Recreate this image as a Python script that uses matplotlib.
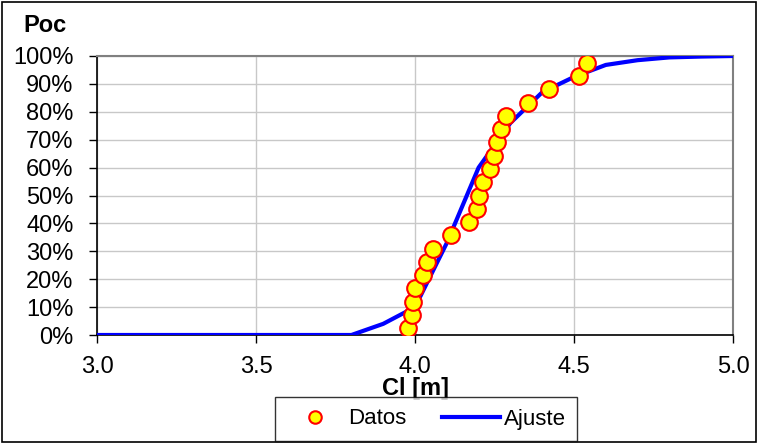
import matplotlib.pyplot as plt
from matplotlib.ticker import PercentFormatter
from matplotlib.patches import Rectangle

plt.rcParams['font.family'] = ['Liberation Sans', 'DejaVu Sans']

# Datos medidos (Cl en m, probabilidad acumulada en %)
Cl_datos = [3.979, 3.989, 3.993, 4.000, 4.026, 4.037, 4.058, 4.113, 4.171, 4.194, 4.201,
            4.215, 4.236, 4.248, 4.259, 4.269, 4.286, 4.356, 4.422, 4.517, 4.540]
Poc_datos = [2.4, 7.1, 11.9, 16.7, 21.4, 26.2, 31.0, 35.7, 40.5, 45.2, 50.0,
             54.8, 59.5, 64.3, 69.0, 73.8, 78.6, 83.3, 88.1, 92.9, 97.6]

# Curva de ajuste
Cl_ajuste = [3.0, 3.8, 3.9, 4.0, 4.1, 4.2, 4.3, 4.4, 4.5, 4.6, 4.7, 4.8, 4.9, 5.0]
Poc_ajuste = [0.0, 0.0, 4.0, 10.0, 33.0, 60.0, 76.0, 87.0, 92.5, 96.8, 98.5, 99.5, 99.8, 100.0]

fig = plt.figure(figsize=(7.59, 4.43), dpi=100)
ax = fig.add_axes([97/759, 1 - 335/443, (733 - 97)/759, (335 - 56)/443])

ax.plot(Cl_ajuste, Poc_ajuste, '-', linewidth=3, color="#0000ff", label="Ajuste", zorder=3)
ax.plot(Cl_datos, Poc_datos, 'o', markersize=12, markerfacecolor="#ffff00",
        markeredgecolor="#ff0000", markeredgewidth=1.5, linestyle="none", label="Datos", zorder=4)

ax.set_xlim(3.0, 5.0)
ax.set_ylim(0, 100)
ax.set_xticks([3.0, 3.5, 4.0, 4.5, 5.0])
ax.set_xticklabels(["3.0", "3.5", "4.0", "4.5", "5.0"])
ax.set_yticks(range(0, 101, 10))
ax.yaxis.set_major_formatter(PercentFormatter(decimals=0))
ax.tick_params(labelsize=17, length=6, width=1, color="black", direction="out")
ax.tick_params(axis="x", pad=9)
ax.tick_params(axis="y", pad=11)

ax.grid(True, color="#c8c8c8", linewidth=1)
ax.set_axisbelow(True)
for lado in ["top", "right"]:
    ax.spines[lado].set_color("#808080")
    ax.spines[lado].set_linewidth(1.5)
for lado in ["left", "bottom"]:
    ax.spines[lado].set_color("black")
    ax.spines[lado].set_linewidth(1.2)

# Títulos de ejes
fig.text(415/759, 1 - 388/443, "Cl [m]", fontsize=17, fontweight="bold", ha="center", va="center")
fig.text(45/759, 1 - 26/443, "Poc", fontsize=17, fontweight="bold", ha="center", va="center")

h, l = ax.get_legend_handles_labels()
leg = fig.legend([h[1], h[0]], [l[1], l[0]], loc="center", bbox_to_anchor=(426/759, 1 - 419/443),
                 ncol=2, fontsize=16, frameon=True, fancybox=False, edgecolor="black",
                 markerscale=0.75, handlelength=2.6, handletextpad=0.2, columnspacing=1.6,
                 borderpad=0.5)
leg.get_frame().set_linewidth(1)

# Marco exterior
fig.patches.append(Rectangle((0.002, 0.002), 0.994, 0.994, transform=fig.transFigure,
                             fill=False, edgecolor="black", linewidth=1.2))

plt.savefig("out.png", dpi=100)
